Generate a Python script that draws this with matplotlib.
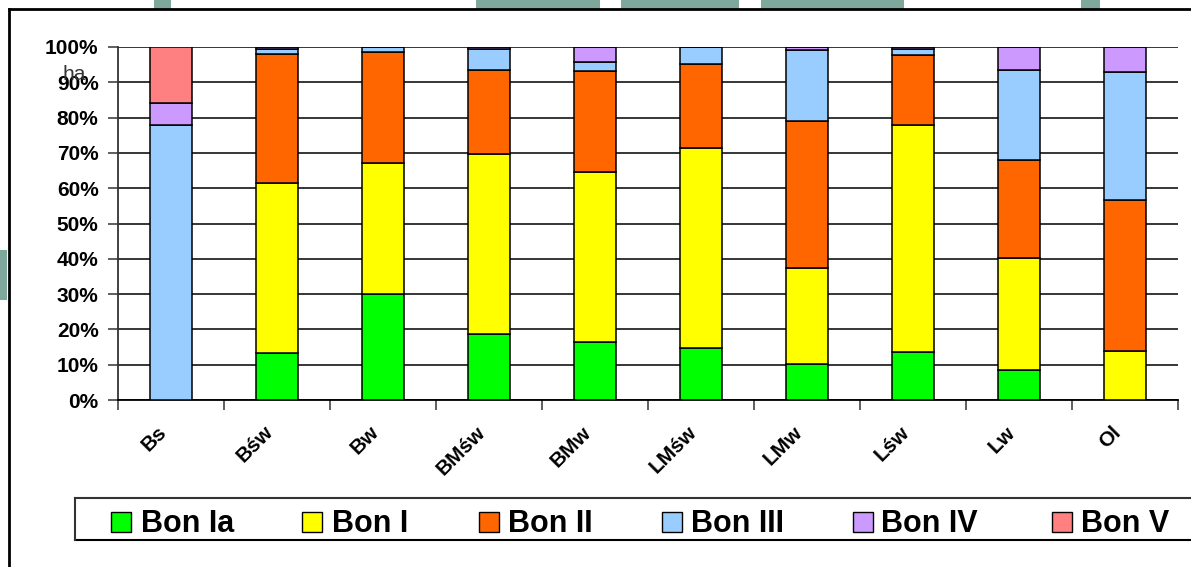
import matplotlib
matplotlib.use('Agg')
import matplotlib.pyplot as plt
from matplotlib.patches import Rectangle
from matplotlib.lines import Line2D
import matplotlib.transforms as mtransforms
import numpy as np

plt.rcParams['font.family'] = ['Liberation Sans', 'DejaVu Sans']

categories = ['Bs', 'Bśw', 'Bw', 'BMśw', 'BMw', 'LMśw', 'LMw', 'Lśw', 'Lw', 'Ol']
series_names = ['Bon Ia', 'Bon I', 'Bon II', 'Bon III', 'Bon IV', 'Bon V']
bon_ia  = [0.0, 13.3, 30.0, 18.8, 16.5, 14.8, 10.3, 13.6, 8.5, 0.0]
bon_i   = [0.0, 48.2, 37.2, 50.9, 48.1, 56.6, 27.1, 64.3, 31.7, 13.9]
bon_ii  = [0.0, 36.5, 31.4, 23.7, 28.6, 23.8, 41.6, 19.7, 27.8, 42.8]
bon_iii = [78.0, 1.5, 1.4, 6.0, 2.6, 4.8, 20.2, 1.9, 25.5, 36.3]
bon_iv  = [6.0, 0.5, 0.0, 0.6, 4.2, 0.0, 0.8, 0.5, 6.5, 7.0]
bon_v   = [16.0, 0.0, 0.0, 0.0, 0.0, 0.0, 0.0, 0.0, 0.0, 0.0]
colors = ['#00FF00', '#FFFF00', '#FF6600', '#99CCFF', '#CC99FF', '#FF8080']
y_ticks = [0, 10, 20, 30, 40, 50, 60, 70, 80, 90, 100]
y_label = 'ha'

W, H = 1191, 567
fig = plt.figure(figsize=(W / 100, H / 100), dpi=100)
fig.patch.set_facecolor('white')

def fx(x):
    return x / W

def fy(y):
    return 1 - y / H

# decorative background strips (watermark)
teal = '#7FA89C'
for x0, x1 in [(154, 171), (476, 600), (621, 739), (761, 904), (1081, 1100)]:
    fig.patches.append(Rectangle((fx(x0), fy(9)), fx(x1 - x0), 9 / H,
                                 transform=fig.transFigure, facecolor=teal,
                                 edgecolor='none', zorder=0))
fig.patches.append(Rectangle((0, fy(300)), fx(7), 50 / H, transform=fig.transFigure,
                             facecolor=teal, edgecolor='none', zorder=0))

# outer frame (left and top visible)
fig.lines.append(Line2D([fx(8.5), fx(8.5)], [fy(9), 0], transform=fig.transFigure,
                        color='black', lw=2.0))
fig.lines.append(Line2D([fx(8.5), 1], [fy(9), fy(9)], transform=fig.transFigure,
                        color='black', lw=2.0))

ax = fig.add_axes([fx(118), fy(400), fx(1178 - 118), (400 - 47) / H])
ax.set_facecolor('white')

x = np.arange(len(categories)) + 0.5
data = [bon_ia, bon_i, bon_ii, bon_iii, bon_iv, bon_v]
bottom = np.zeros(len(categories))
for name, vals, c in zip(series_names, data, colors):
    v = np.array(vals)
    ax.bar(x, v, width=0.4, bottom=bottom, color=c, edgecolor='black',
           linewidth=1.1, zorder=3, label=name)
    bottom += v

ax.set_xlim(0, len(categories))
ax.set_ylim(0, 100)
ax.set_yticks(y_ticks)
ax.set_yticklabels([f'{t}%' for t in y_ticks], fontsize=15, fontweight='bold')
ax.yaxis.grid(True, color='black', lw=1.1, zorder=1)
ax.set_axisbelow(True)
ax.tick_params(axis='y', length=7, width=1.1, color='#333333', pad=7, direction='out')

ax.set_xticks(x)
ax.set_xticklabels(categories, fontsize=15, fontweight='bold', rotation=45,
                   ha='right', va='center', rotation_mode='anchor')
ax.tick_params(axis='x', which='major', length=0, pad=21)
offset = mtransforms.ScaledTranslation(-7 / 100, 0, fig.dpi_scale_trans)
for lbl in ax.get_xticklabels():
    lbl.set_transform(lbl.get_transform() + offset)
ax.set_xticks(np.arange(len(categories) + 1), minor=True)
ax.tick_params(axis='x', which='minor', length=7, width=1.1, color='#333333', direction='out')

for s in ['top', 'right']:
    ax.spines[s].set_visible(False)
ax.spines['left'].set_color('#333333')
ax.spines['left'].set_linewidth(1.3)
ax.spines['bottom'].set_color('black')
ax.spines['bottom'].set_linewidth(1.3)

fig.text(fx(63), fy(80), y_label, fontsize=15, color='#333333', ha='left', va='baseline')

# legend box
fig.lines.append(Line2D([fx(75), 1], [fy(498), fy(498)], transform=fig.transFigure,
                        color='#333333', lw=1.5))
fig.lines.append(Line2D([fx(75), 1], [fy(540), fy(540)], transform=fig.transFigure,
                        color='black', lw=1.5))
fig.lines.append(Line2D([fx(75), fx(75)], [fy(498), fy(540)], transform=fig.transFigure,
                        color='#333333', lw=1.5))
sq_x = [111, 302, 479, 662, 853, 1052]
tx_x = [141, 332, 508, 691, 881, 1081]
for name, c, sx, tx in zip(series_names, colors, sq_x, tx_x):
    fig.patches.append(Rectangle((fx(sx), fy(532)), fx(20), 20 / H,
                                 transform=fig.transFigure, facecolor=c,
                                 edgecolor='black', lw=1.0, zorder=5))
    fig.text(fx(tx), fy(532), name, fontsize=22, fontweight='bold',
             ha='left', va='baseline', color='black')

fig.savefig('out.png', dpi=100, facecolor='white')
